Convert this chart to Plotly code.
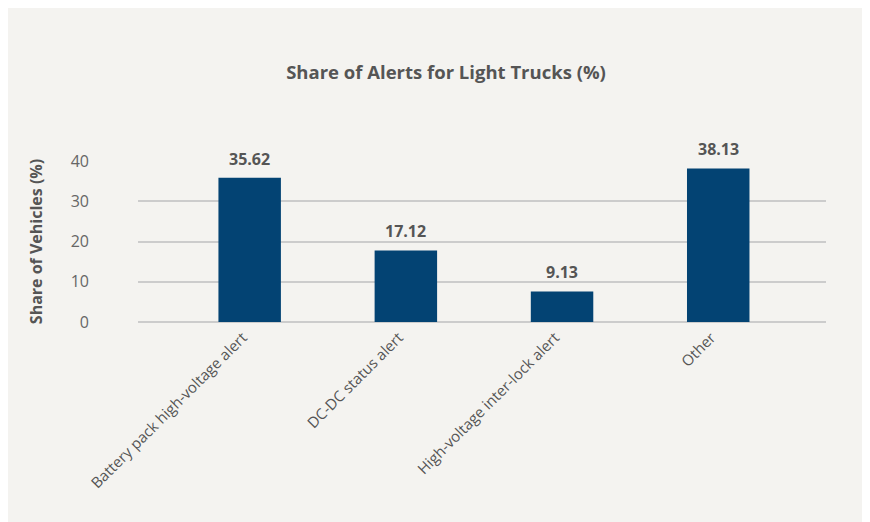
import plotly.graph_objects as go

categories = ["Battery pack high-voltage alert", "DC-DC status alert",
              "High-voltage inter-lock alert", "Other"]
bar_heights = [35.9, 17.8, 7.6, 38.2]
label_values = ["35.62", "17.12", "9.13", "38.13"]
y_ticks = [0, 10, 20, 30, 40]

FONT = "'Open Sans', sans-serif"
BG = "#f4f3f0"
BAR = "#034373"

fig = go.Figure()
fig.add_trace(go.Bar(x=categories, y=bar_heights, marker_color=BAR,
                     marker_line_width=0, width=0.40, hoverinfo="skip"))

for c, h, t in zip(categories, bar_heights, label_values):
    fig.add_annotation(x=c, y=h, text="<b>" + t + "</b>", showarrow=False,
                       yshift=19, font=dict(family=FONT, size=16, color="#555555"))

fig.update_layout(
    width=870, height=522,
    margin=dict(l=130, r=52, t=153, b=208, autoexpand=False),
    paper_bgcolor=BG, plot_bgcolor="rgba(0,0,0,0)",
    showlegend=False,
    title=dict(text="<b>Share of Alerts for Light Trucks (%)</b>", x=(446 - 8) / 870,
               xanchor="center", y=1 - 65 / 522, yanchor="middle",
               font=dict(family=FONT, size=18.5, color="#555555")),
    xaxis=dict(range=[-0.715, 3.69], tickangle=-45, showgrid=False, zeroline=False,
               showline=False, ticks="", ticklabelstandoff=3, ticklabelshift=-7,
               tickfont=dict(family=FONT, size=15, color="#555555")),
    yaxis=dict(range=[0, 40.05], tickvals=y_ticks, showgrid=True, gridcolor="#cccccc",
               gridwidth=2, zeroline=True, zerolinecolor="#cccccc", zerolinewidth=2,
               showline=False, ticks="", ticklabelstandoff=48,
               tickfont=dict(family=FONT, size=16, color="#666666"),
               title=dict(text="<b>Share of Vehicles (%)</b>", standoff=24,
                          font=dict(family=FONT, size=16, color="#555555"))),
)
fig.write_html("out.html")
